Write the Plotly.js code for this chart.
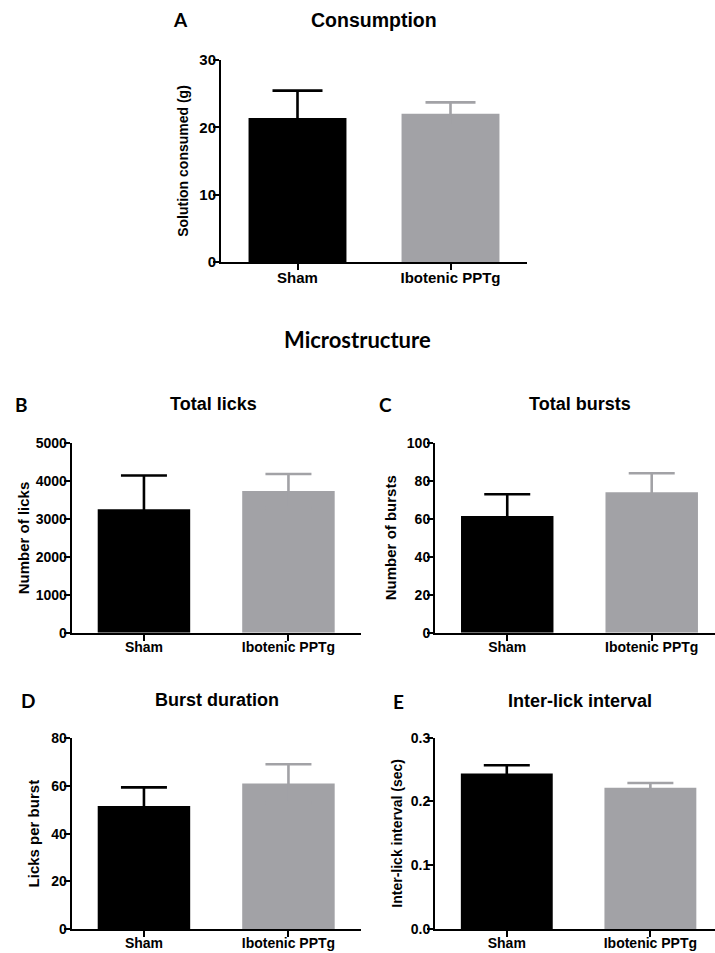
<!DOCTYPE html>
<html><head><meta charset="utf-8">
<script src="https://cdn.plot.ly/plotly-3.0.1.min.js"></script>
<style>html,body{margin:0;padding:0;background:#fff;overflow:hidden}</style>
</head><body><div id="chart" style="width:715px;height:953px"></div>
<script>
// ---- data ----
const categories = ['Sham', 'Ibotenic PPTg'];
const consumptionMean = [21.4, 22.0];
const consumptionErr = [4.05, 1.7];
const licksMean = [3260, 3740];
const licksErr = [890, 450];
const burstsMean = [61.4, 73.9];
const burstsErr = [11.5, 10.0];
const durationMean = [51.6, 61.0];
const durationErr = [7.8, 8.1];
const intervalMean = [0.244, 0.2216];
const intervalErr = [0.0127, 0.0073];
const yTitles = ['Solution consumed (g)', 'Number of licks', 'Number of bursts', 'Licks per burst', 'Inter-lick interval (sec)'];
const panelTitles = ['Consumption', 'Total licks', 'Total bursts', 'Burst duration', 'Inter-lick interval'];
const panelLetters = ['A', 'B', 'C', 'D', 'E'];
const sectionTitle = 'Microstructure';

// ---- layout config (pixels) ----
const W = 715, H = 953;
const barColors = ['#000000', '#a2a2a6'];
const AR = "'Liberation Sans', Arial, sans-serif";
const CAL = 'Lato, Open Sans, sans-serif';
const panels = [
  {mean: consumptionMean, err: consumptionErr, yr: [0, 30], dt: 10, fmt: '', xpx: [221, 527], ypx: [60, 262], xr: [-0.5, 1.5], tf: 15, ytf: 14, cap: 25, so: 7, xs: -5},
  {mean: licksMean, err: licksErr, yr: [0, 5000], dt: 1000, fmt: '', xpx: [71.7, 360.7], ypx: [443.3, 632.7], xr: [-0.5, 1.5], tf: 14, ytf: 15, cap: 23, so: 2, xs: -6},
  {mean: burstsMean, err: burstsErr, yr: [0, 100], dt: 20, fmt: '', xpx: [435, 715], ypx: [442.7, 632.7], xr: [-0.5, 1.438], tf: 14, ytf: 15, cap: 23, so: 7, xs: -6},
  {mean: durationMean, err: durationErr, yr: [0, 80], dt: 20, fmt: '', xpx: [71.7, 360.7], ypx: [738.3, 929], xr: [-0.5, 1.5], tf: 14, ytf: 15, cap: 23, so: 8, xs: -6},
  {mean: intervalMean, err: intervalErr, yr: [0, 0.3], dt: 0.1, fmt: '.1f', xpx: [435, 715], ypx: [737.7, 929], xr: [-0.5, 1.45], tf: 14, ytf: 14, cap: 23, so: 5, xs: -6}
];
const titlePos = [[374, 20, 19.5], [213, 404, 18], [580, 404, 18], [217, 700, 18], [580, 701, 18]];
const letterPos = [[180, 20], [21, 404], [385, 404], [28, 700], [398, 701]];
const sectionPos = [357, 339];

const px = x => x / W, py = y => 1 - y / H;

const traces = [];
const layout = {
  width: W, height: H, margin: {l: 0, r: 0, t: 0, b: 0},
  paper_bgcolor: '#fff', plot_bgcolor: 'rgba(0,0,0,0)',
  showlegend: false, barmode: 'overlay', bargap: 0.36,
  font: {family: AR, color: '#000'},
  annotations: []
};

panels.forEach((p, i) => {
  const n = i === 0 ? '' : String(i + 1);
  categories.forEach((c, k) => {
    traces.push({
      type: 'bar', x: [c], y: [p.mean[k]],
      xaxis: 'x' + n, yaxis: 'y' + n,
      marker: {color: barColors[k], line: {width: 0}},
      error_y: {type: 'data', symmetric: true, array: [p.err[k]],
        color: barColors[k], thickness: 2.6, width: p.cap},
      hoverinfo: 'x+y'
    });
  });
  layout['xaxis' + n] = {
    domain: [px(p.xpx[0]), px(p.xpx[1])], anchor: 'y' + n,
    type: 'category', categoryorder: 'array', categoryarray: categories,
    range: p.xr, showline: true, linecolor: '#000', linewidth: 2,
    ticks: 'outside', ticklen: 6, tickwidth: 2, tickcolor: '#000',
    ticklabelstandoff: p.xs,
    tickfont: {family: AR, size: p.tf, weight: 'bold', color: '#000'},
    showgrid: false, zeroline: false, fixedrange: true
  };
  layout['yaxis' + n] = {
    domain: [py(p.ypx[1]), py(p.ypx[0])], anchor: 'x' + n,
    range: p.yr, dtick: p.dt, tick0: 0, tickformat: p.fmt,
    showline: true, linecolor: '#000', linewidth: 2,
    ticks: 'outside', ticklen: 6, tickwidth: 2, tickcolor: '#000',
    ticklabelstandoff: -6,
    tickfont: {family: AR, size: p.tf, weight: 'bold', color: '#000'},
    title: {text: yTitles[i], font: {family: AR, size: p.ytf, weight: 'bold', color: '#000'}, standoff: p.so},
    showgrid: false, zeroline: false, fixedrange: true, automargin: false
  };
  layout.annotations.push({
    text: panelTitles[i], xref: 'paper', yref: 'paper',
    x: px(titlePos[i][0]), y: py(titlePos[i][1]), xanchor: 'center', yanchor: 'middle',
    showarrow: false, font: {family: AR, size: titlePos[i][2], weight: 'bold', color: '#000'}
  });
  layout.annotations.push({
    text: panelLetters[i], xref: 'paper', yref: 'paper',
    x: px(letterPos[i][0]), y: py(letterPos[i][1]), xanchor: 'center', yanchor: 'middle',
    showarrow: false, font: {family: CAL, size: 19, weight: 'bold', color: '#000'}
  });
});
layout.annotations.push({
  text: sectionTitle, xref: 'paper', yref: 'paper',
  x: px(sectionPos[0]), y: py(sectionPos[1]), xanchor: 'center', yanchor: 'middle',
  showarrow: false, font: {family: CAL, size: 22, weight: 'bold', color: '#000'}
});

Plotly.newPlot('chart', traces, layout, {displayModeBar: false, staticPlot: true});
</script>
</body></html>
